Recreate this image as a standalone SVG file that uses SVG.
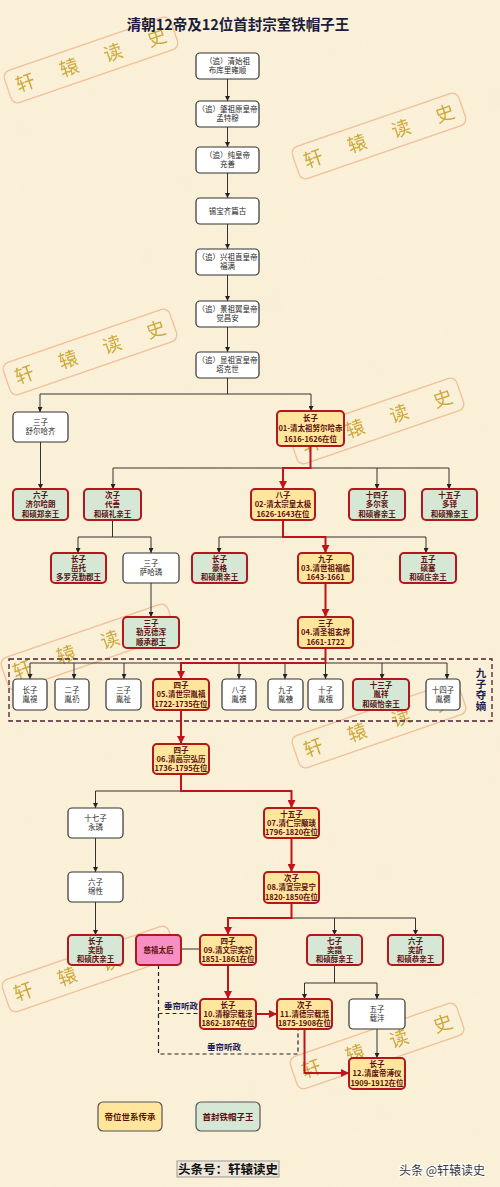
<svg xmlns="http://www.w3.org/2000/svg" width="500" height="1187" viewBox="0 0 500 1187">
<defs>
<style>
text{font-family:"Noto Sans CJK SC","Noto Sans",sans-serif;text-anchor:middle}
.node text{font-size:7.5px}
.nw rect{fill:#fff;stroke:#333;stroke-width:1.2}
.nw text{fill:#2a2a2a}
.ne rect{fill:#ffe69c;stroke:#b3161b;stroke-width:2}
.np rect{fill:#d6e8d5;stroke:#b3161b;stroke-width:2}
.nc rect{fill:#f78ec4;stroke:#b3161b;stroke-width:2}
.ne text,.np text,.nc text{fill:#5c0f0f;font-weight:bold}
.lg rect{stroke:#555;stroke-width:1.2}
.lg text{font-size:8.5px;font-weight:bold;fill:#5c1010}
.cb{fill:none;stroke:#333;stroke-width:1}
.cr{fill:none;stroke:#c0141a;stroke-width:2}
.cd{fill:none;stroke:#222;stroke-width:1.2;stroke-dasharray:4 3}
.wm rect{fill:none;stroke:#f1bf98;stroke-width:1.3}
.wm text{font-size:19px;fill:#c9a22c;opacity:0.9}
.lab{font-size:8.5px;font-weight:bold;fill:#1f1f4f}
</style>
<marker id="ab" viewBox="0 0 6 6" refX="6" refY="3" markerWidth="5" markerHeight="5" markerUnits="userSpaceOnUse" orient="auto"><path d="M0,0L6,3L0,6z" fill="#222"/></marker>
<marker id="ar" viewBox="0 0 6 6" refX="6" refY="3" markerWidth="8" markerHeight="8" markerUnits="userSpaceOnUse" orient="auto"><path d="M0,0L6,3L0,6z" fill="#c0141a"/></marker>
<filter id="tex" x="0" y="0" width="100%" height="100%">
<feTurbulence type="fractalNoise" baseFrequency="0.025" numOctaves="3" seed="7"/>
<feColorMatrix type="matrix" values="0 0 0 0 0.86  0 0 0 0 0.76  0 0 0 0 0.56  0 0 0 0.35 -0.08"/>
</filter>
</defs>

<rect width="500" height="1187" fill="#fbf1d9"/>
<rect width="500" height="1187" filter="url(#tex)" opacity="0.6"/>

<g id="watermarks">
<g class="wm" transform="translate(91,60) rotate(-19)"><rect x="-88" y="-17" width="176" height="34" rx="7"/><text x="-69.5" y="7">轩</text><text x="-23.2" y="7">辕</text><text x="23.2" y="7">读</text><text x="69.5" y="7">史</text></g>
<g class="wm" transform="translate(379,136) rotate(-19)"><rect x="-88" y="-17" width="176" height="34" rx="7"/><text x="-69.5" y="7">轩</text><text x="-23.2" y="7">辕</text><text x="23.2" y="7">读</text><text x="69.5" y="7">史</text></g>
<g class="wm" transform="translate(90,352) rotate(-19)"><rect x="-88" y="-17" width="176" height="34" rx="7"/><text x="-69.5" y="7">轩</text><text x="-23.2" y="7">辕</text><text x="23.2" y="7">读</text><text x="69.5" y="7">史</text></g>
<g class="wm" transform="translate(377,421) rotate(-19)"><rect x="-88" y="-17" width="176" height="34" rx="7"/><text x="-69.5" y="7">轩</text><text x="-23.2" y="7">辕</text><text x="23.2" y="7">读</text><text x="69.5" y="7">史</text></g>
<g class="wm" transform="translate(88,647) rotate(-19)"><rect x="-88" y="-17" width="176" height="34" rx="7"/><text x="-69.5" y="7">轩</text><text x="-23.2" y="7">辕</text><text x="23.2" y="7">读</text><text x="69.5" y="7">史</text></g>
<g class="wm" transform="translate(379,725) rotate(-19)"><rect x="-88" y="-17" width="176" height="34" rx="7"/><text x="-69.5" y="7">轩</text><text x="-23.2" y="7">辕</text><text x="23.2" y="7">读</text><text x="69.5" y="7">史</text></g>
<g class="wm" transform="translate(89,969) rotate(-19)"><rect x="-88" y="-17" width="176" height="34" rx="7"/><text x="-69.5" y="7">轩</text><text x="-23.2" y="7">辕</text><text x="23.2" y="7">读</text><text x="69.5" y="7">史</text></g>
<g class="wm" transform="translate(377,1046) rotate(-19)"><rect x="-88" y="-17" width="176" height="34" rx="7"/><text x="-69.5" y="7">轩</text><text x="-23.2" y="7">辕</text><text x="23.2" y="7">读</text><text x="69.5" y="7">史</text></g>
</g>

<text x="238" y="30" style="font-size:14.5px;font-weight:bold;fill:#1c1c3c">清朝12帝及12位首封宗室铁帽子王</text>

<g id="group-jiuzi">
<rect x="9" y="659" width="483" height="62" fill="none" stroke="#4a2035" stroke-width="1.3" stroke-dasharray="5 3"/>
<text x="481" y="690" writing-mode="vertical-rl" style="font-size:10.5px;font-weight:bold;fill:#1f1f4f;letter-spacing:0.5px">九子夺嫡</text>
</g>

<g id="connectors">
<path class="cb" d="M227.5,79V101" marker-end="url(#ab)"/>
<path class="cb" d="M227.5,126V147" marker-end="url(#ab)"/>
<path class="cb" d="M227.5,173V198" marker-end="url(#ab)"/>
<path class="cb" d="M227.5,224V249" marker-end="url(#ab)"/>
<path class="cb" d="M227.5,275V301" marker-end="url(#ab)"/>
<path class="cb" d="M227.5,326V352" marker-end="url(#ab)"/>
<path class="cb" d="M227.5,377V394M40,394H311"/>
<path class="cb" d="M40,394V412" marker-end="url(#ab)"/>
<path class="cb" d="M311,394V411" marker-end="url(#ab)"/>
<path class="cb" d="M40.5,442V489" marker-end="url(#ab)"/>
<path class="cb" d="M113,468H449"/>
<path class="cb" d="M113,468V489" marker-end="url(#ab)"/>
<path class="cb" d="M377,468V489" marker-end="url(#ab)"/>
<path class="cb" d="M449,468V489" marker-end="url(#ab)"/>
<path class="cb" d="M112.5,520V537M78,537H151"/>
<path class="cb" d="M78,537V553" marker-end="url(#ab)"/>
<path class="cb" d="M151,537V553" marker-end="url(#ab)"/>
<path class="cb" d="M219,537H426"/>
<path class="cb" d="M219,537V553" marker-end="url(#ab)"/>
<path class="cb" d="M426,537V553" marker-end="url(#ab)"/>
<path class="cb" d="M151,583V617" marker-end="url(#ab)"/>
<path class="cb" d="M30,663H447"/>
<path class="cb" d="M30,663V679" marker-end="url(#ab)"/>
<path class="cb" d="M74,663V679" marker-end="url(#ab)"/>
<path class="cb" d="M124,663V679" marker-end="url(#ab)"/>
<path class="cb" d="M239,663V679" marker-end="url(#ab)"/>
<path class="cb" d="M285,663V679" marker-end="url(#ab)"/>
<path class="cb" d="M325.5,663V679" marker-end="url(#ab)"/>
<path class="cb" d="M382,663V679" marker-end="url(#ab)"/>
<path class="cb" d="M447,663V679" marker-end="url(#ab)"/>
<path class="cb" d="M95.5,791H181"/>
<path class="cb" d="M95.5,791V808" marker-end="url(#ab)"/>
<path class="cb" d="M95.5,838V872" marker-end="url(#ab)"/>
<path class="cb" d="M95.5,902V935" marker-end="url(#ab)"/>
<path class="cb" d="M291.5,918H415.5"/>
<path class="cb" d="M334.5,918V935" marker-end="url(#ab)"/>
<path class="cb" d="M415.5,918V935" marker-end="url(#ab)"/>
<path class="cb" d="M181,949H200"/>
<path class="cb" d="M334.5,965V983M304.5,983H377"/>
<path class="cb" d="M304.5,983V999" marker-end="url(#ab)"/>
<path class="cb" d="M377,983V999" marker-end="url(#ab)"/>
<path class="cb" d="M377,1029V1058" marker-end="url(#ab)"/>
<path class="cd" d="M158.5,965V1054H298V1029"/>
<path class="cd" d="M158.5,1013.5H200"/>
<path class="cr" d="M310.5,446V468H283V489" marker-end="url(#ar)"/>
<path class="cr" d="M283,520V537H325.5V553" marker-end="url(#ar)"/>
<path class="cr" d="M325.5,583V617" marker-end="url(#ar)"/>
<path class="cr" d="M325.5,648V663H181V679" marker-end="url(#ar)"/>
<path class="cr" d="M181,710V744" marker-end="url(#ar)"/>
<path class="cr" d="M181,774V791H291.5V808" marker-end="url(#ar)"/>
<path class="cr" d="M291.5,838V872" marker-end="url(#ar)"/>
<path class="cr" d="M291.5,903V918H228V935" marker-end="url(#ar)"/>
<path class="cr" d="M228,965V999" marker-end="url(#ar)"/>
<path class="cr" d="M256,1014H277" marker-end="url(#ar)"/>
<path class="cr" d="M304.5,1029V1073H349" marker-end="url(#ar)"/>
</g>

<text class="lab" x="181" y="1009">垂帘听政</text>
<text class="lab" x="224" y="1050">垂帘听政</text>

<g id="n-c1" class="node nw"><rect x="196" y="53" width="63" height="26" rx="4"/><text x="227.5" y="64.3">（追）清始祖</text><text x="227.5" y="73.3">布库里雍顺</text></g>
<g id="n-c2" class="node nw"><rect x="196" y="101" width="63" height="26" rx="4"/><text x="227.5" y="112.3">（追）肇祖原皇帝</text><text x="227.5" y="121.3">孟特穆</text></g>
<g id="n-c3" class="node nw"><rect x="196" y="147" width="63" height="26" rx="4"/><text x="227.5" y="158.3">（追）纯皇帝</text><text x="227.5" y="167.3">充善</text></g>
<g id="n-c4" class="node nw"><rect x="196" y="198" width="63" height="26" rx="4"/><text x="227.5" y="213.8">锡宝齐篇古</text></g>
<g id="n-c5" class="node nw"><rect x="196" y="249" width="63" height="26" rx="4"/><text x="227.5" y="260.3">（追）兴祖直皇帝</text><text x="227.5" y="269.3">福满</text></g>
<g id="n-c6" class="node nw"><rect x="196" y="301" width="63" height="26" rx="4"/><text x="227.5" y="312.3">（追）景祖翼皇帝</text><text x="227.5" y="321.3">觉昌安</text></g>
<g id="n-c7" class="node nw"><rect x="196" y="352" width="63" height="26" rx="4"/><text x="227.5" y="363.3">（追）显祖宣皇帝</text><text x="227.5" y="372.3">塔克世</text></g>

<g id="n-shuerhaqi" class="node nw"><rect x="13" y="412" width="55" height="30" rx="4"/><text x="40.5" y="425.3">三子</text><text x="40.5" y="434.3">舒尔哈齐</text></g>
<g id="n-e01" class="node ne"><rect x="277" y="411" width="67" height="35" rx="4"/><text x="310.5" y="421">长子</text><text x="310.5" y="431.3">01-清太祖努尔哈赤</text><text x="310.5" y="441.6">1616-1626在位</text></g>

<g id="n-jierhalang" class="node np"><rect x="13" y="489" width="55" height="31" rx="4"/><text x="40.5" y="498">六子</text><text x="40.5" y="507.3">济尔哈朗</text><text x="40.5" y="516.6">和硕郑亲王</text></g>
<g id="n-daishan" class="node np"><rect x="84" y="489" width="57" height="31" rx="4"/><text x="112.5" y="498">次子</text><text x="112.5" y="507.3">代善</text><text x="112.5" y="516.6">和硕礼亲王</text></g>
<g id="n-e02" class="node ne"><rect x="251" y="489" width="64" height="31" rx="4"/><text x="283" y="498">八子</text><text x="283" y="507.3">02-清太宗皇太极</text><text x="283" y="516.6">1626-1643在位</text></g>
<g id="n-duoergun" class="node np"><rect x="349" y="489" width="56" height="31" rx="4"/><text x="377" y="498">十四子</text><text x="377" y="507.3">多尔衮</text><text x="377" y="516.6">和硕睿亲王</text></g>
<g id="n-duoduo" class="node np"><rect x="422" y="489" width="55" height="31" rx="4"/><text x="449.5" y="498">十五子</text><text x="449.5" y="507.3">多铎</text><text x="449.5" y="516.6">和硕豫亲王</text></g>

<g id="n-yuetuo" class="node np"><rect x="51" y="553" width="55" height="30" rx="4"/><text x="78.5" y="561.8">长子</text><text x="78.5" y="570.8">岳托</text><text x="78.5" y="579.8">多罗克勤郡王</text></g>
<g id="n-sahalin" class="node nw"><rect x="123" y="553" width="56" height="30" rx="4"/><text x="151" y="566.3">三子</text><text x="151" y="575.3">萨哈璘</text></g>
<g id="n-haoge" class="node np"><rect x="192" y="553" width="55" height="30" rx="4"/><text x="219.5" y="561.8">长子</text><text x="219.5" y="570.8">豪格</text><text x="219.5" y="579.8">和硕肃亲王</text></g>
<g id="n-e03" class="node ne"><rect x="298" y="553" width="55" height="30" rx="4"/><text x="325.5" y="561.8">九子</text><text x="325.5" y="570.8">03.清世祖福临</text><text x="325.5" y="579.8">1643-1661</text></g>
<g id="n-shuosai" class="node np"><rect x="400" y="553" width="56" height="30" rx="4"/><text x="428" y="561.8">五子</text><text x="428" y="570.8">硕塞</text><text x="428" y="579.8">和硕庄亲王</text></g>

<g id="n-lekedehun" class="node np"><rect x="123" y="617" width="56" height="31" rx="4"/><text x="151" y="626">三子</text><text x="151" y="635.3">勒克德浑</text><text x="151" y="644.6">顺承郡王</text></g>
<g id="n-e04" class="node ne"><rect x="298" y="617" width="55" height="31" rx="4"/><text x="325.5" y="626">三子</text><text x="325.5" y="635.3">04.清圣祖玄烨</text><text x="325.5" y="644.6">1661-1722</text></g>

<g id="n-yinti" class="node nw"><rect x="13" y="679" width="34" height="31" rx="4"/><text x="30" y="692.8">长子</text><text x="30" y="701.8">胤禔</text></g>
<g id="n-yinreng" class="node nw"><rect x="55" y="679" width="34" height="31" rx="4"/><text x="72" y="692.8">二子</text><text x="72" y="701.8">胤礽</text></g>
<g id="n-yinzhi" class="node nw"><rect x="106" y="679" width="35" height="31" rx="4"/><text x="123.5" y="692.8">三子</text><text x="123.5" y="701.8">胤祉</text></g>
<g id="n-e05" class="node ne"><rect x="153" y="679" width="56" height="31" rx="4"/><text x="181" y="688">四子</text><text x="181" y="697.3">05.清世宗胤禛</text><text x="181" y="706.6">1722-1735在位</text></g>
<g id="n-yinsi" class="node nw"><rect x="222" y="679" width="34" height="31" rx="4"/><text x="239" y="692.8">八子</text><text x="239" y="701.8">胤禩</text></g>
<g id="n-yintang" class="node nw"><rect x="268" y="679" width="35" height="31" rx="4"/><text x="285.5" y="692.8">九子</text><text x="285.5" y="701.8">胤禟</text></g>
<g id="n-yine" class="node nw"><rect x="308" y="679" width="35" height="31" rx="4"/><text x="325.5" y="692.8">十子</text><text x="325.5" y="701.8">胤䄉</text></g>
<g id="n-yinxiang" class="node np"><rect x="353" y="679" width="56" height="31" rx="4"/><text x="381" y="688">十三子</text><text x="381" y="697.3">胤祥</text><text x="381" y="706.6">和硕怡亲王</text></g>
<g id="n-yinti14" class="node nw"><rect x="426" y="679" width="34" height="31" rx="4"/><text x="443" y="692.8">十四子</text><text x="443" y="701.8">胤禵</text></g>

<g id="n-e06" class="node ne"><rect x="153" y="744" width="56" height="30" rx="4"/><text x="181" y="752.8">四子</text><text x="181" y="761.8">06.清高宗弘历</text><text x="181" y="770.8">1736-1795在位</text></g>
<g id="n-yonglin" class="node nw"><rect x="68" y="808" width="55" height="30" rx="4"/><text x="95.5" y="821.3">十七子</text><text x="95.5" y="830.3">永璘</text></g>
<g id="n-e07" class="node ne"><rect x="264" y="808" width="55" height="30" rx="4"/><text x="291.5" y="816.8">十五子</text><text x="291.5" y="825.8">07.清仁宗颙琰</text><text x="291.5" y="834.8">1796-1820在位</text></g>
<g id="n-mianxing" class="node nw"><rect x="68" y="872" width="55" height="30" rx="4"/><text x="95.5" y="885.3">六子</text><text x="95.5" y="894.3">绵性</text></g>
<g id="n-e08" class="node ne"><rect x="264" y="872" width="55" height="31" rx="4"/><text x="291.5" y="881">次子</text><text x="291.5" y="890.3">08.清宣宗旻宁</text><text x="291.5" y="899.6">1820-1850在位</text></g>

<g id="n-yikuang" class="node np"><rect x="68" y="935" width="55" height="30" rx="4"/><text x="95.5" y="943.8">长子</text><text x="95.5" y="952.8">奕劻</text><text x="95.5" y="961.8">和硕庆亲王</text></g>
<g id="n-cixi" class="node nc"><rect x="136" y="935" width="45" height="30" rx="4"/><text x="158.5" y="952.8">慈禧太后</text></g>
<g id="n-e09" class="node ne"><rect x="200" y="935" width="56" height="30" rx="4"/><text x="228" y="943.8">四子</text><text x="228" y="952.8">09.清文宗奕詝</text><text x="228" y="961.8">1851-1861在位</text></g>
<g id="n-yixuan" class="node np"><rect x="307" y="935" width="55" height="30" rx="4"/><text x="334.5" y="943.8">七子</text><text x="334.5" y="952.8">奕譞</text><text x="334.5" y="961.8">和硕醇亲王</text></g>
<g id="n-yixin" class="node np"><rect x="388" y="935" width="55" height="30" rx="4"/><text x="415.5" y="943.8">六子</text><text x="415.5" y="952.8">奕訢</text><text x="415.5" y="961.8">和硕恭亲王</text></g>

<g id="n-e10" class="node ne"><rect x="200" y="999" width="56" height="30" rx="4"/><text x="228" y="1007.8">长子</text><text x="228" y="1016.8">10.清穆宗载淳</text><text x="228" y="1025.8">1862-1874在位</text></g>
<g id="n-e11" class="node ne"><rect x="277" y="999" width="55" height="30" rx="4"/><text x="304.5" y="1007.8">次子</text><text x="304.5" y="1016.8">11.清德宗载湉</text><text x="304.5" y="1025.8">1875-1908在位</text></g>
<g id="n-zaifeng" class="node nw"><rect x="349" y="999" width="56" height="30" rx="4"/><text x="377" y="1012.3">五子</text><text x="377" y="1021.3">载沣</text></g>
<g id="n-e12" class="node ne"><rect x="349" y="1058" width="56" height="31" rx="4"/><text x="377" y="1067">长子</text><text x="377" y="1076.3">12.清废帝溥仪</text><text x="377" y="1085.6">1909-1912在位</text></g>

<g id="legend-1" class="lg"><rect x="98" y="1102" width="64" height="29" rx="5" fill="#ffe69c"/><text x="130" y="1119.8">帝位世系传承</text></g>
<g id="legend-2" class="lg"><rect x="196" y="1102" width="64" height="29" rx="5" fill="#d6e8d5"/><text x="228" y="1119.8">首封铁帽子王</text></g>

<rect x="177" y="1161" width="102" height="16" fill="#efe8da" stroke="#999" stroke-width="1"/>
<text x="228" y="1174" style="font-size:12.5px;font-weight:bold;fill:#111">头条号：轩辕读史</text>
<text x="442" y="1174.5" style="font-size:12px;fill:#3a3a3a;stroke:#fff;stroke-width:2;paint-order:stroke">头条 @轩辕读史</text>
</svg>
